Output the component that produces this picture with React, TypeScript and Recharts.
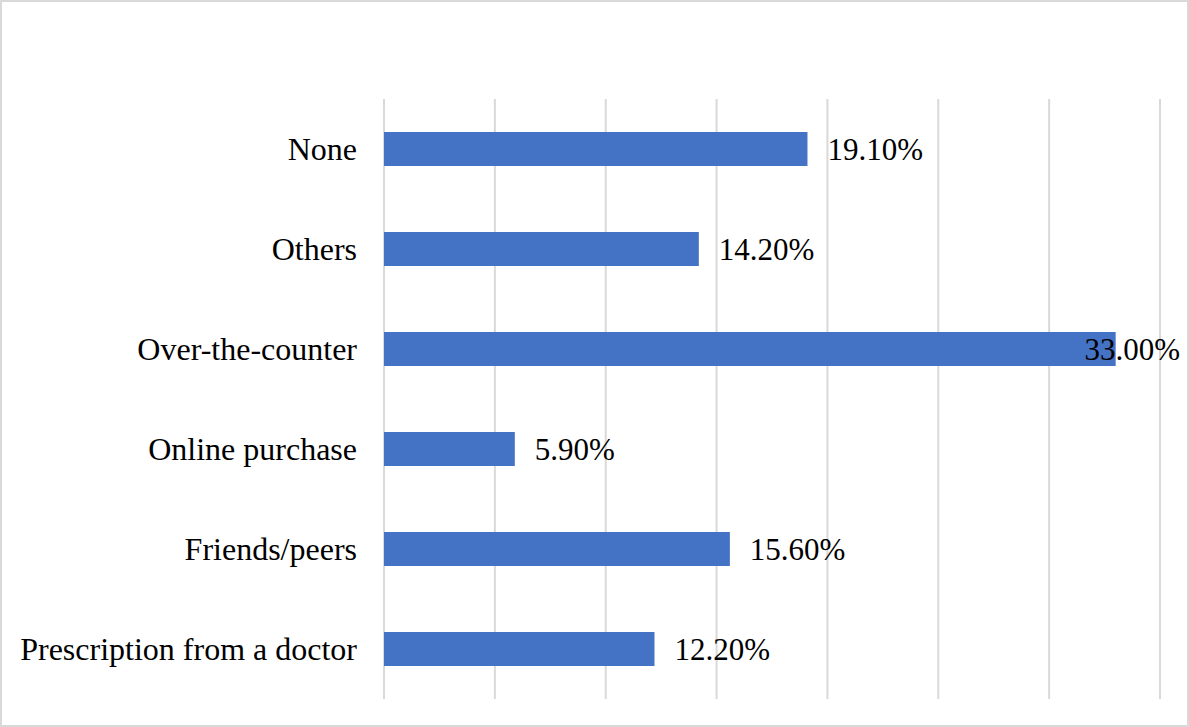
import { BarChart, Bar, XAxis, YAxis, CartesianGrid, LabelList } from "recharts";

const categories = [
  "None",
  "Others",
  "Over-the-counter",
  "Online purchase",
  "Friends/peers",
  "Prescription from a doctor",
];
const shares = [19.1, 14.2, 33.0, 5.9, 15.6, 12.2];
const xTicks = [0, 5, 10, 15, 20, 25, 30, 35];

const data = categories.map((name, i) => ({ name, share: shares[i] }));

const FONT = '"Liberation Serif", "Times New Roman", serif';
const FONT_SIZE = 31;
const RIGHT_LIMIT = 1180; // labels get pushed back inside the frame

const ValueLabel = (props: any) => {
  const { x, y, width, height, value } = props;
  const text = `${Number(value).toFixed(2)}%`;
  const estWidth = FONT_SIZE * 3.08;
  let tx = x + width + 20;
  let anchor: "start" | "end" = "start";
  if (tx + estWidth > RIGHT_LIMIT) {
    tx = RIGHT_LIMIT;
    anchor = "end";
  }
  return (
    <text
      x={tx}
      y={y + height / 2}
      dy="0.355em"
      textAnchor={anchor}
      fontFamily={FONT}
      fontSize={FONT_SIZE}
      fill="#000"
    >
      {text}
    </text>
  );
};

export default function App() {
  return (
    <div
      style={{
        position: "absolute",
        left: 0,
        top: 0,
        width: 1189,
        height: 727,
        boxSizing: "border-box",
        border: "2px solid #d9d9d9",
        background: "#fff",
      }}
    >
      <div style={{ position: "absolute", left: -2, top: -2 }}>
        <BarChart
          width={1189}
          height={727}
          layout="vertical"
          data={data}
          margin={{ top: 99, right: 29, bottom: 28, left: 0 }}
        >
          <CartesianGrid horizontal={false} stroke="#d9d9d9" strokeWidth={2} />
          <XAxis type="number" domain={[0, 35]} ticks={xTicks} hide />
          <YAxis
            type="category"
            dataKey="name"
            width={384}
            axisLine={false}
            tickLine={false}
            tickSize={0}
            tickMargin={27}
            tick={{ fontFamily: FONT, fontSize: 32, fill: "#000" }}
          />
          <Bar dataKey="share" fill="#4472C4" barSize={34} isAnimationActive={false}>
            <LabelList dataKey="share" content={ValueLabel} />
          </Bar>
        </BarChart>
      </div>
    </div>
  );
}
